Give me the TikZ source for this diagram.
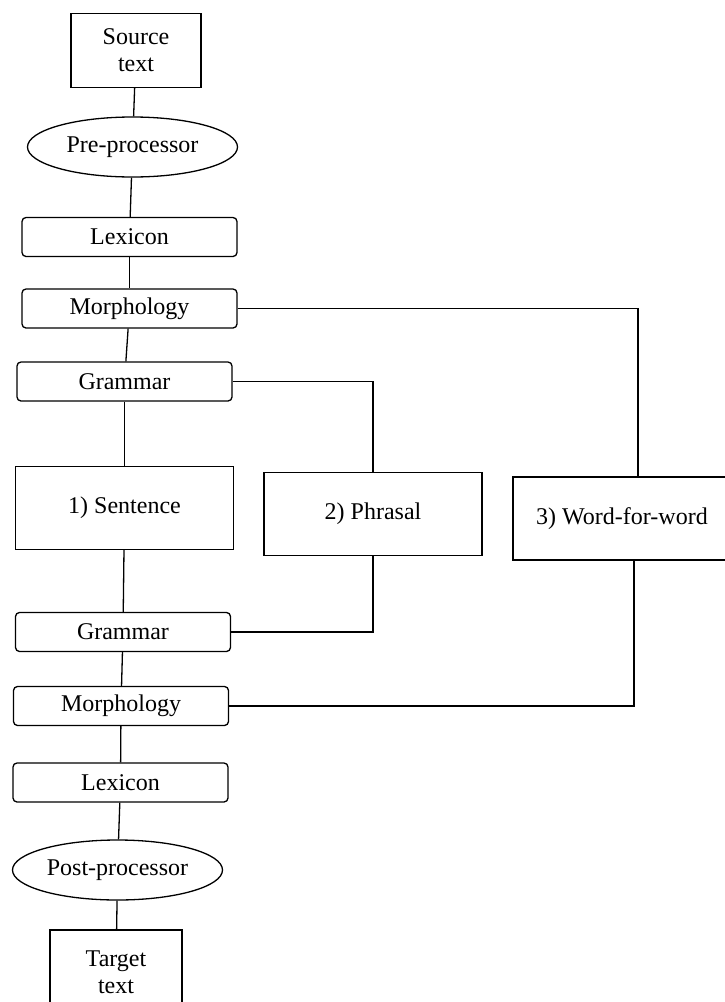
\documentclass[tikz,border=0pt]{standalone}
\usepackage{fontspec}
\setmainfont{Liberation Serif}
\usetikzlibrary{shapes.geometric}
\tikzset{
  stepbox/.style={
    draw, rectangle, rounded corners=4pt, align=center,
    inner sep=0pt, line width=1.3pt,
    minimum width=215pt, minimum height=39pt
  },
  strategy/.style={
    draw, rectangle, align=center,
    inner sep=0pt, line width=1.3pt,
    minimum width=218pt, minimum height=83pt
  },
  textbox/.style={
    draw, rectangle, align=center,
    inner sep=0pt, line width=1.3pt,
    minimum width=130pt, minimum height=74pt
  },
  processor/.style={
    draw, ellipse, align=center,
    inner sep=0pt, line width=1.3pt,
    minimum width=210pt, minimum height=60pt
  },
  % Plain connector line
  link/.style={
    -, line width=1.3pt
  },
}

\begin{document}
\begin{tikzpicture}[x=1pt, y=-1pt, font=\fontsize{24}{27}\selectfont]

  \useasboundingbox (0,0) rectangle (725,1002);
  \clip (0,0) rectangle (725,1002);

  %% ── Analysis side ──
  \node[textbox]   (srcT)   at (136,50.5)  {Source\\text};
  \node[processor] (preP)   at (132.5,147) {Pre-processor};
  \node[stepbox]   (lexA)   at (129.5,237) {Lexicon};
  \node[stepbox]   (morphA) at (129.5,308.5) {Morphology};
  \node[stepbox]   (gramA)  at (124.5,381.5) {Grammar};

  %% ── Transfer strategies ──
  \node[strategy] (sentT) at (124.5,508) {1) Sentence};
  \node[strategy] (phrT)  at (373,514)   {2) Phrasal};
  \node[strategy] (wfwT)  at (622,518.5) {3) Word-for-word};

  %% ── Synthesis side ──
  \node[stepbox]   (gramB)  at (123,632)   {Grammar};
  \node[stepbox]   (morphB) at (121,706)   {Morphology};
  \node[stepbox]   (lexB)   at (120.5,782.5) {Lexicon};
  \node[processor] (postP)  at (117.5,870) {Post-processor};
  \node[textbox, minimum width=132pt, minimum height=84pt] (tgtT) at (116,972) {Target\\text};

  %% ── Main column ──
  \draw[link] (srcT) -- (preP);
  \draw[link] (preP) -- (lexA);
  \draw[link] (lexA) -- (morphA);
  \draw[link] (morphA) -- (gramA);
  \draw[link] (gramA) -- (sentT);
  \draw[link] (sentT) -- (gramB);
  \draw[link] (gramB) -- (morphB);
  \draw[link] (morphB) -- (lexB);
  \draw[link] (lexB) -- (postP);
  \draw[link] (postP) -- (tgtT);

  %% ── Phrasal branch ──
  \draw[link] (gramA.east) -| (phrT.north);
  \draw[link] (phrT.south) |- (gramB.east);

  %% ── Word-for-word branch ──
  \draw[link] (morphA.east) -| ([xshift=16pt]wfwT.north);
  \draw[link] ([xshift=12pt]wfwT.south) |- (morphB.east);

\end{tikzpicture}
\end{document}
